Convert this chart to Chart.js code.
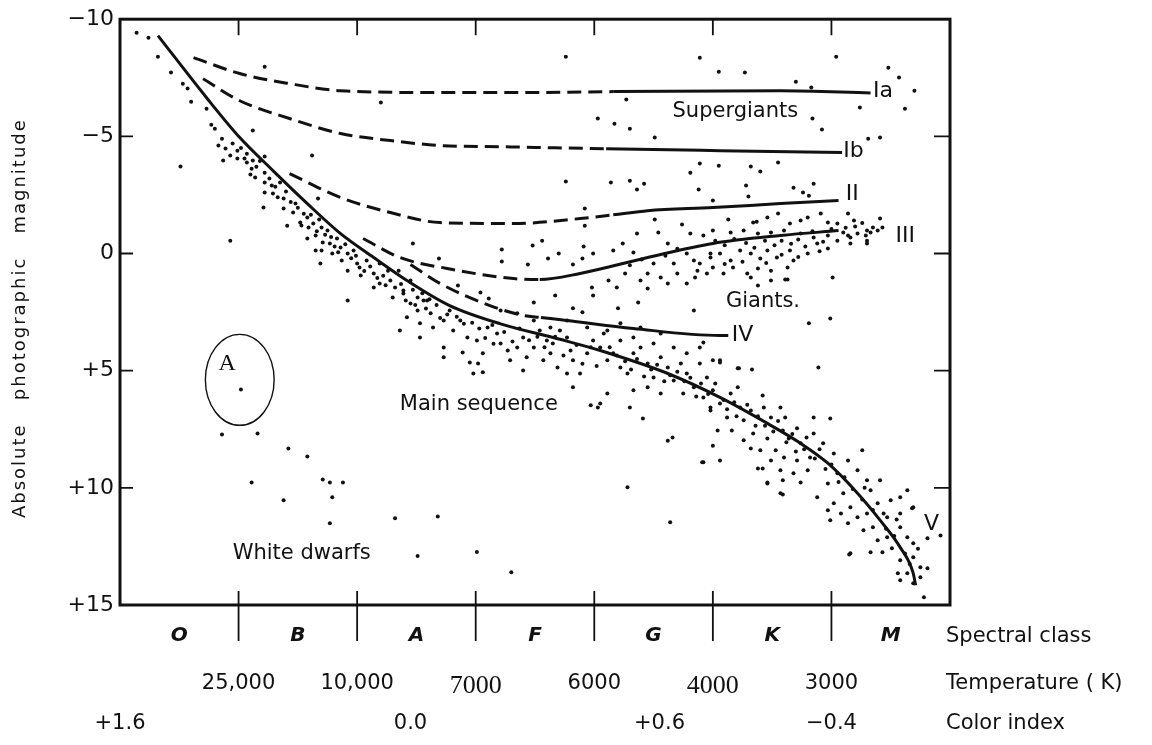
<!DOCTYPE html>
<html>
<head>
<meta charset="utf-8">
<title>Hertzsprung-Russell diagram</title>
<script src="https://cdn.jsdelivr.net/npm/chart.js@4.4.1/dist/chart.umd.min.js"></script>
<style>
  html, body { margin: 0; padding: 0; background: #fff; }
  #hrChart { display: block; }
</style>
</head>
<body>
<canvas id="hrChart" width="1152" height="745"></canvas>
<script>
// x runs 0..7, one unit per spectral class (O = 0..1, B = 1..2, ...)
const spectralClasses = ['O', 'B', 'A', 'F', 'G', 'K', 'M'];
const classCenters = [0.5, 1.5, 2.5, 3.5, 4.5, 5.5, 6.5];
const classBounds = [1, 2, 3, 4, 5, 6];
const temperatureTicks = [1, 2, 3, 4, 5, 6];
const temperatureLabels = ['25,000', '10,000', '7000', '6000', '4000', '3000'];
const colorIndexTicks = [0, 2.45, 4.55, 6];
const colorIndexLabels = ['+1.6', '0.0', '+0.6', '\u22120.4'];
const magnitudeTicks = [-10, -5, 0, 5, 10, 15];
const magnitudeLabels = ['\u221210', '\u22125', '0', '+5', '+10', '+15'];
const rowTitles = ['Spectral class', 'Temperature ( K)', 'Color index'];
const yTitle = 'Absolute   photographic   magnitude';

// luminosity class curves [spectral position, magnitude]
const mainSequenceLine = [[0.32,-9.30],[0.73,-6.65],[1.01,-4.95],[1.29,-3.54],[1.58,-2.13],[1.86,-0.85],[2.14,0.17],[2.42,1.15],[2.78,2.22],[3.21,3.00],[3.71,3.66],[4.05,4.14],[4.62,5.12],[5.06,6.14],[5.46,7.25],[5.74,8.10],[5.97,8.95],[6.22,10.23],[6.41,11.38],[6.58,12.54],[6.69,13.65],[6.71,14.16]];
const branchIa = [[0.62,-8.36],[1.01,-7.68],[1.43,-7.25],[1.86,-6.95],[2.70,-6.87],[3.50,-6.87],[4.16,-6.91],[5.57,-6.95],[6.33,-6.85]];
const branchIb = [[0.70,-7.46],[1.01,-6.52],[1.43,-5.76],[1.86,-5.12],[2.28,-4.82],[2.70,-4.61],[3.30,-4.55],[4.10,-4.47],[5.06,-4.39],[6.09,-4.31]];
const branchII = [[1.43,-3.41],[1.86,-2.39],[2.28,-1.75],[2.70,-1.32],[3.32,-1.28],[3.88,-1.49],[4.16,-1.65],[4.45,-1.83],[5.00,-1.96],[5.57,-2.13],[6.06,-2.26]];
const branchIII = [[2.05,-0.64],[2.36,0.17],[2.76,0.64],[3.32,1.07],[3.54,1.11],[3.88,0.85],[4.45,0.17],[5.00,-0.43],[5.57,-0.77],[6.06,-0.98]];
const branchIV = [[2.45,0.47],[2.70,1.28],[3.12,2.22],[3.40,2.64],[3.55,2.73],[3.77,2.86],[4.33,3.20],[5.06,3.50],[5.13,3.50]];

// individual stars [spectral position, magnitude]
const supergiantStars = [[0.14,-9.42],[0.24,-9.21],[1.22,-7.97],[1.12,-5.25],[1.62,-4.18],[2.20,-6.44],[0.51,-3.71],[3.76,-8.40],[4.89,-8.36],[5.05,-7.76],[5.27,-7.72],[4.27,-6.57],[4.03,-5.76],[4.17,-5.54],[4.30,-5.33],[4.51,-4.95],[3.76,-3.07],[4.14,-3.03],[4.30,-3.11],[4.36,-2.73],[4.42,-2.98],[4.81,-3.45],[4.89,-3.84],[5.05,-3.75],[5.32,-3.71],[5.40,-3.50],[4.88,-2.73],[5.00,-2.26],[5.28,-2.90],[5.30,-2.43],[5.55,-3.88],[6.04,-8.40],[6.48,-7.93],[6.57,-7.51],[6.70,-6.95],[6.62,-6.18],[6.24,-6.23],[5.70,-7.33],[5.83,-7.08],[5.84,-5.76],[5.92,-5.29],[6.31,-4.90],[6.41,-4.95],[5.68,-2.81],[5.76,-2.60],[5.85,-2.98],[5.81,-2.47]];
const giantStars = [[3.92,-1.92],[3.92,-1.19],[2.69,0.21],[3.22,-0.17],[4.51,-1.45],[4.74,-1.24],[5.13,-1.45],[5.37,-1.36],[5.46,-1.54],[2.47,-0.43],[3.22,0.34],[3.56,-0.55],[3.48,-0.34],[3.70,0.00],[3.91,-0.30],[3.90,0.21],[3.82,0.47],[3.44,0.47],[3.61,0.21],[3.99,0.00],[4.16,-0.13],[4.24,-0.43],[4.36,-0.85],[4.33,-0.04],[4.54,-0.90],[4.62,-0.43],[4.92,-0.77],[5.00,-0.98],[4.81,-0.85],[4.98,0.00],[4.84,0.30],[4.67,0.43],[4.50,0.43],[4.45,0.85],[4.56,1.02],[4.70,0.85],[4.87,0.73],[5.00,0.60],[4.78,1.28],[4.62,1.28],[4.45,1.49],[4.39,1.15],[4.26,0.85],[4.12,1.15],[4.19,1.45],[3.98,1.45],[3.99,1.79],[3.67,1.79],[3.49,2.09],[4.37,2.09],[4.84,2.43],[4.20,2.34],[3.82,2.34],[3.90,2.51],[3.04,1.66],[2.85,1.37],[3.11,1.92],[3.21,2.43],[3.35,2.55],[4.92,3.80],[5.34,-1.32],[5.55,-1.71],[5.65,-1.28],[5.74,-1.41],[5.80,-1.54],[5.91,-1.71],[5.97,-1.32],[6.05,-1.28],[6.14,-1.71],[6.19,-1.41],[6.41,-1.49],[5.15,-0.90],[5.26,-0.98],[5.38,-0.85],[5.49,-0.90],[5.60,-0.98],[5.74,-0.85],[5.85,-0.68],[5.97,-0.77],[6.10,-0.90],[6.16,-0.68],[6.22,-0.85],[6.29,-0.77],[6.33,-0.90],[6.39,-0.98],[6.43,-1.11],[6.16,-0.43],[6.30,-0.43],[5.97,-0.21],[5.88,-0.43],[5.80,0.00],[5.65,-0.13],[5.54,0.17],[5.46,-0.13],[5.40,0.21],[5.32,0.00],[5.23,-0.13],[5.15,0.30],[5.06,0.00],[4.98,0.17],[4.89,0.43],[4.85,1.02],[4.95,0.85],[5.09,0.85],[5.17,0.60],[5.29,0.85],[5.38,0.64],[5.49,0.73],[5.63,0.60],[5.68,0.30],[5.63,1.11],[5.38,1.37],[5.49,1.15],[5.32,1.02],[5.81,2.98],[5.99,2.77],[5.89,4.86],[5.06,4.56],[5.21,4.90],[5.33,4.95],[6.01,1.02],[5.61,1.11],[6.30,-0.98],[6.35,-1.11],[6.30,-0.55],[6.14,-0.77],[5.02,-0.55],[5.10,-0.35],[5.18,-0.62],[5.28,-0.45],[5.35,-0.25],[5.44,-0.55],[5.52,-0.35],[5.58,-0.55],[5.66,-0.42],[5.72,-0.60],[5.78,-0.30],[5.84,-0.95],[5.93,-0.50],[6.00,-1.05],[6.05,-0.55],[6.12,-1.10],[6.20,-1.15],[6.26,-1.30],[4.70,-0.20],[4.78,0.00],[4.60,0.10],[4.40,0.25],[4.30,0.50],[5.10,0.45],[5.25,0.35],[5.45,0.40],[5.58,0.05],[5.72,0.15],[5.90,-0.10]];
const upperMainStars = [[0.32,-8.40],[0.43,-7.72],[0.53,-7.25],[0.57,-7.04],[0.60,-6.48],[0.73,-6.18],[0.77,-5.50],[0.80,-5.33],[0.86,-4.90],[0.83,-4.61],[0.89,-4.48],[0.93,-4.18],[0.99,-4.39],[0.87,-3.97],[0.99,-4.05],[1.07,-4.26],[1.07,-3.88],[1.12,-3.97],[1.11,-3.62],[1.10,-3.37],[1.14,-3.24],[1.22,-4.14],[1.22,-3.45],[1.22,-3.03],[1.28,-2.90],[1.22,-2.60],[1.29,-2.56],[1.35,-3.03],[1.38,-2.35],[1.48,-2.13],[1.38,-1.92],[1.46,-1.75],[1.41,-1.19],[1.52,-1.32],[1.58,-1.54],[1.59,-1.11],[1.63,-1.28],[1.58,-0.64],[1.65,-0.77],[1.70,-1.11],[1.75,-0.98],[1.71,-0.47],[1.65,-0.13],[1.70,-0.13],[1.77,-0.43],[1.83,-0.64],[1.86,-0.26],[1.79,0.00],[1.87,0.30],[1.92,0.00],[1.97,-0.13],[1.69,0.43],[1.92,0.73],[2.00,0.43],[2.03,0.94],[2.08,0.30],[2.14,0.85],[2.19,0.43],[2.19,1.28],[2.14,1.45],[2.26,0.73],[2.35,0.73],[2.39,1.58],[2.45,1.15],[2.30,1.88],[2.51,1.88],[2.59,2.00],[1.92,2.00],[1.21,-1.96],[1.67,-2.35],[0.93,-0.55],[0.95,-4.70],[1.02,-4.50],[1.05,-4.05],[1.15,-3.70],[1.18,-3.95],[1.26,-3.20],[1.31,-2.85],[1.33,-2.40],[1.40,-2.65],[1.44,-2.20],[1.50,-1.95],[1.55,-1.70],[1.53,-1.20],[1.61,-1.65],[1.66,-0.95],[1.68,-1.45],[1.73,-0.80],[1.78,-0.70],[1.81,-0.30],[1.84,-0.05],[1.90,-0.40],[1.95,0.20],[1.99,0.10],[2.02,0.60],[2.06,0.75],[2.11,0.55],[2.17,1.05],[2.22,0.95],[2.24,1.35],[2.28,1.15],[2.32,1.45],[2.37,1.30],[2.41,2.00],[2.47,1.55],[2.49,2.20],[2.55,1.70],[2.58,2.35],[2.61,1.95],[2.67,2.20],[2.70,2.75],[2.76,2.60],[2.84,2.70],[2.90,3.00],[2.97,2.95]];
const middleMainStars = [[2.39,1.71],[2.45,2.13],[2.51,2.43],[2.42,2.72],[2.56,2.00],[2.62,2.55],[2.64,3.16],[2.73,2.86],[2.78,2.43],[2.81,3.28],[2.87,2.86],[2.93,3.58],[2.73,4.01],[2.73,4.43],[2.89,4.22],[2.95,4.65],[3.02,4.69],[3.06,4.26],[3.01,3.71],[3.10,3.16],[3.18,3.41],[3.21,3.84],[3.27,4.14],[3.29,4.56],[3.35,4.01],[3.40,3.58],[3.43,4.43],[3.49,4.01],[3.54,3.28],[3.60,3.71],[3.57,4.56],[3.63,4.26],[3.69,4.86],[3.65,3.84],[3.71,3.28],[3.77,3.58],[3.80,4.14],[3.82,4.56],[3.88,5.12],[3.77,5.12],[3.94,4.26],[3.99,3.71],[4.05,4.01],[4.11,4.56],[4.16,4.26],[4.08,3.41],[4.22,3.71],[4.22,4.86],[4.28,5.12],[4.33,4.26],[4.39,4.01],[4.45,4.69],[4.50,5.29],[4.45,5.71],[4.56,4.43],[4.62,4.86],[4.67,5.42],[4.73,4.69],[4.78,5.12],[4.84,5.71],[4.75,5.97],[4.89,4.69],[4.95,5.29],[5.00,5.84],[4.98,6.57],[4.56,5.97],[4.33,5.84],[4.11,5.97],[3.97,6.48],[4.05,6.40],[3.82,5.71],[4.30,6.57],[2.98,5.12],[3.06,5.07],[2.53,2.98],[2.36,3.28],[2.53,3.58],[3.40,4.99],[4.03,6.57],[4.41,7.04],[4.62,7.99],[4.66,7.85],[4.91,8.91],[5.38,9.17],[5.57,10.23],[5.06,4.65],[5.22,4.90],[3.49,2.86],[3.63,3.16],[3.77,2.86],[3.94,3.16],[4.11,3.28],[4.22,2.98],[4.33,3.58],[4.50,3.84],[4.67,4.01],[4.78,4.26],[4.89,4.01],[5.00,4.56],[4.39,3.16],[4.56,3.41],[3.03,3.20],[3.08,3.60],[3.14,3.05],[3.15,3.85],[3.24,3.35],[3.31,3.75],[3.37,3.20],[3.45,3.70],[3.52,3.55],[3.58,4.00],[3.67,3.55],[3.74,4.35],[3.85,3.90],[3.90,4.70],[3.97,4.00],[4.02,4.80],[4.13,4.00],[4.19,4.35],[4.26,4.60],[4.31,4.95],[4.36,4.50],[4.42,5.25],[4.48,4.95],[4.53,4.75],[4.59,5.45],[4.64,5.20],[4.70,5.05],[4.76,5.45],[4.81,5.30],[4.86,6.10],[4.90,5.55],[4.96,6.00],[5.02,5.55]];
const lowerMainStars = [[4.92,6.14],[4.98,6.70],[5.06,6.40],[5.15,5.97],[5.21,5.71],[5.23,6.57],[5.12,7.00],[5.04,7.55],[5.16,7.55],[5.26,7.12],[5.32,6.70],[5.42,6.06],[5.43,6.57],[5.57,6.57],[5.49,7.00],[5.61,7.00],[5.59,7.55],[5.34,7.68],[5.26,7.97],[5.46,7.89],[5.40,8.40],[5.32,8.32],[5.53,8.40],[5.64,7.89],[5.71,7.46],[5.74,8.10],[5.85,7.00],[5.85,7.68],[5.99,7.04],[5.93,8.10],[6.02,8.53],[5.82,8.70],[5.71,8.83],[5.60,8.70],[5.49,8.83],[5.42,9.17],[5.57,9.25],[5.68,9.38],[5.80,9.25],[5.59,9.68],[5.74,9.77],[5.46,9.77],[5.88,10.40],[5.97,9.81],[6.05,9.38],[6.14,8.83],[6.26,8.40],[6.22,9.25],[6.30,9.68],[6.41,9.68],[6.33,10.10],[6.10,10.23],[6.02,10.66],[5.97,10.96],[6.08,11.09],[6.16,10.83],[5.99,11.38],[6.14,11.51],[6.22,11.26],[6.30,11.09],[6.39,10.66],[6.50,10.53],[6.58,10.40],[6.64,10.10],[6.68,10.87],[6.58,11.09],[6.47,11.26],[6.35,11.68],[6.27,11.81],[6.39,12.24],[6.47,12.11],[6.58,11.68],[6.64,12.11],[6.69,12.37],[6.43,12.75],[6.33,12.75],[6.16,12.79],[6.51,12.58],[6.58,13.09],[6.69,12.96],[6.75,13.39],[6.64,13.65],[6.56,13.65],[6.58,13.94],[6.69,14.07],[6.75,13.82],[6.81,13.43],[6.78,14.67],[6.81,12.15],[6.92,12.03],[6.69,10.83],[4.92,8.91],[5.06,8.83],[5.00,8.20],[5.46,9.81],[5.59,10.28],[6.15,12.84],[5.09,6.25],[5.12,6.65],[5.18,6.35],[5.20,6.95],[5.29,6.45],[5.36,7.35],[5.38,6.95],[5.44,7.35],[5.51,7.60],[5.55,7.15],[5.62,8.05],[5.67,7.70],[5.70,8.45],[5.77,8.35],[5.79,7.85],[5.86,8.75],[5.90,8.35],[5.95,9.20],[6.00,9.00],[6.06,9.75],[6.11,9.55],[6.18,10.05],[6.26,10.50],[6.28,10.00],[6.35,10.95],[6.44,11.10],[6.46,11.75],[6.53,12.05],[6.55,11.35],[6.62,12.80],[6.66,13.25],[6.73,12.60]];
const whiteDwarfStars = [[1.02,5.80],[0.86,7.72],[1.16,7.68],[1.42,8.32],[1.58,8.66],[1.11,9.77],[1.38,10.53],[1.71,9.64],[1.77,9.77],[1.88,9.77],[1.79,10.40],[1.77,11.51],[2.32,11.30],[2.68,11.22],[2.51,12.91],[3.01,12.74],[3.30,13.60],[4.64,11.47],[4.28,9.98]];

// text placed in the plot, at [spectral position, magnitude]
const regionLabels = [
  { text: 'Supergiants', at: [4.66, -6.08] },
  { text: 'Giants.', at: [5.11, 2.07] },
  { text: 'Main sequence', at: [2.36, 6.43] },
  { text: 'White dwarfs', at: [0.95, 12.80] }
];
const branchLabels = [
  { text: 'Ia', at: [6.35, -6.93] },
  { text: 'Ib', at: [6.10, -4.37] },
  { text: 'II', at: [6.12, -2.54] },
  { text: 'III', at: [6.54, -0.75] },
  { text: 'IV', at: [5.16, 3.50] },
  { text: 'V', at: [6.78, 11.54] }
];
const markedStar = { text: 'A', at: [0.83, 4.71], ring: [1.01, 5.39], rx: 0.29, ry: 1.94 };

const ink = '#111';
const sans = 'DejaVu Sans';
const serif = 'Liberation Serif';
const LABEL_SIZE = 21;

function curve(points, dashEnd) {
  return {
    data: points,
    showLine: true,
    borderColor: ink,
    borderWidth: 3,
    pointRadius: 0,
    cubicInterpolationMode: 'monotone',
    segment: {
      borderDash: ctx => (dashEnd !== undefined && ctx.p1.parsed.x <= dashEnd) ? [14, 7] : undefined
    }
  };
}

function stars(points) {
  return {
    data: points,
    showLine: false,
    pointRadius: 2,
    pointBackgroundColor: ink,
    pointBorderWidth: 0
  };
}

// frame, inward ticks, in-plot text and the row titles under the chart
const decorations = {
  id: 'decorations',
  afterDatasetsDraw(chart) {
    const { ctx, chartArea: area, scales } = chart;
    const x = scales.x, y = scales.y;
    ctx.save();
    ctx.strokeStyle = ink;
    ctx.fillStyle = ink;

    ctx.lineWidth = 3;
    ctx.strokeRect(area.left, area.top, area.right - area.left, area.bottom - area.top);

    ctx.lineWidth = 1.8;
    ctx.beginPath();
    classBounds.forEach(v => {
      const px = x.getPixelForValue(v);
      ctx.moveTo(px, area.bottom - 14);
      ctx.lineTo(px, area.bottom + 36);
      ctx.moveTo(px, area.top);
      ctx.lineTo(px, area.top + 16);
    });
    magnitudeTicks.slice(1, -1).forEach(v => {
      const py = y.getPixelForValue(v);
      ctx.moveTo(area.left, py);
      ctx.lineTo(area.left + 13, py);
      ctx.moveTo(area.right - 16, py);
      ctx.lineTo(area.right, py);
    });
    ctx.stroke();

    ctx.textAlign = 'left';
    ctx.textBaseline = 'middle';
    ctx.font = LABEL_SIZE + 'px "' + sans + '"';
    regionLabels.forEach(l => ctx.fillText(l.text, x.getPixelForValue(l.at[0]), y.getPixelForValue(l.at[1])));
    ctx.font = '22px "' + sans + '"';
    branchLabels.forEach(l => ctx.fillText(l.text, x.getPixelForValue(l.at[0]), y.getPixelForValue(l.at[1])));

    // circled star A
    const cx = x.getPixelForValue(markedStar.ring[0]);
    const cy = y.getPixelForValue(markedStar.ring[1]);
    const rx = x.getPixelForValue(markedStar.ring[0] + markedStar.rx) - cx;
    const ry = y.getPixelForValue(markedStar.ring[1] + markedStar.ry) - cy;
    ctx.lineWidth = 1.4;
    ctx.beginPath();
    ctx.ellipse(cx, cy, rx, ry, 0, 0, Math.PI * 2);
    ctx.stroke();
    ctx.font = '24px "' + serif + '"';
    ctx.fillText(markedStar.text, x.getPixelForValue(markedStar.at[0]), y.getPixelForValue(markedStar.at[1]));

    // row titles to the right of the three bottom scales
    ctx.font = LABEL_SIZE + 'px "' + sans + '"';
    ['x', 'xTemp', 'xColor'].forEach((id, i) => {
      const s = scales[id];
      const rowY = s.top + s.options.ticks.padding + LABEL_SIZE * 0.6;
      ctx.fillText(rowTitles[i], area.right - 4, rowY);
    });

    // y title, spaced out like the original lettering
    ctx.translate(20, (area.top + area.bottom) / 2 + 6);
    ctx.rotate(-Math.PI / 2);
    ctx.font = '18px "' + sans + '"';
    ctx.letterSpacing = '2px';
    ctx.textAlign = 'center';
    ctx.fillText(yTitle, 0, 0);
    ctx.restore();
  }
};

function fixedTicks(values) {
  return scale => { scale.ticks = values.map(v => ({ value: v })); };
}

const canvas = document.getElementById('hrChart');
if (canvas) {
  const ctx = canvas.getContext('2d');
  new Chart(ctx, {
    type: 'scatter',
    data: {
      datasets: [
        curve(mainSequenceLine),
        curve(branchIa, 4.16),
        curve(branchIb, 4.10),
        curve(branchII, 4.16),
        curve(branchIII, 3.54),
        curve(branchIV, 3.55),
        stars(supergiantStars),
        stars(giantStars),
        stars(upperMainStars),
        stars(middleMainStars),
        stars(lowerMainStars),
        stars(whiteDwarfStars)
      ]
    },
    options: {
      responsive: false,
      devicePixelRatio: 1,
      animation: false,
      events: [],
      layout: { padding: { top: 18, right: 202, bottom: 0, left: 0 } },
      plugins: { legend: { display: false }, tooltip: { enabled: false } },
      scales: {
        x: {
          type: 'linear', position: 'bottom', min: 0, max: 7,
          afterBuildTicks: fixedTicks(classCenters),
          afterFit: s => { s.height = 55; },
          grid: { display: false, drawTicks: false },
          border: { display: false },
          ticks: {
            autoSkip: false, maxRotation: 0, padding: 19, color: ink,
            font: { family: sans, size: 20, weight: 'bold', style: 'italic' },
            callback: (v, i) => spectralClasses[i]
          }
        },
        xTemp: {
          type: 'linear', position: 'bottom', min: 0, max: 7,
          afterBuildTicks: fixedTicks(temperatureTicks),
          afterFit: s => { s.height = 45; },
          grid: { display: false, drawTicks: false },
          border: { display: false },
          ticks: {
            autoSkip: false, maxRotation: 0, padding: 11, color: ink,
            font: c => (c.index === 2 || c.index === 4)
              ? { family: serif, size: 26 }
              : { family: sans, size: LABEL_SIZE },
            callback: (v, i) => temperatureLabels[i]
          }
        },
        xColor: {
          type: 'linear', position: 'bottom', min: 0, max: 7,
          afterBuildTicks: fixedTicks(colorIndexTicks),
          afterFit: s => { s.height = 40; },
          grid: { display: false, drawTicks: false },
          border: { display: false },
          ticks: {
            autoSkip: false, maxRotation: 0, padding: 6, color: ink,
            font: { family: sans, size: LABEL_SIZE },
            callback: (v, i) => colorIndexLabels[i]
          }
        },
        y: {
          type: 'linear', position: 'left', reverse: true, min: -10, max: 15,
          afterBuildTicks: fixedTicks(magnitudeTicks),
          afterFit: s => { s.width = 120; },
          grid: { display: false, drawTicks: false },
          border: { display: false },
          ticks: {
            padding: 6, color: ink,
            font: { family: sans, size: 22 },
            callback: (v, i) => magnitudeLabels[i]
          }
        }
      }
    },
    plugins: [decorations]
  });
} else {
  console.error('Canvas element not found.');
}
</script>
</body>
</html>
